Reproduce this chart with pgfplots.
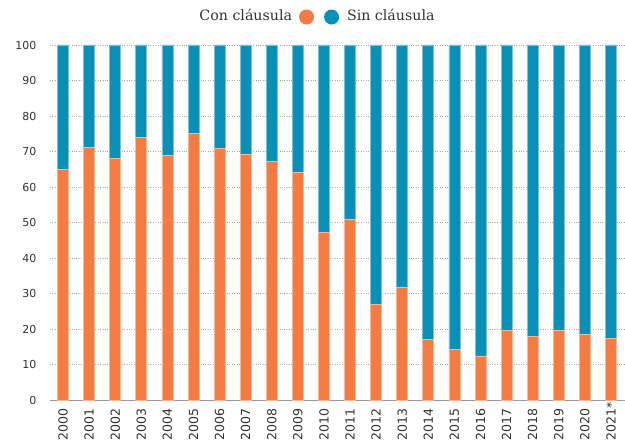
\documentclass[border=0pt]{standalone}
\usepackage{fontspec}
\usepackage{pgfplots}
\pgfplotsset{compat=1.18}
\newfontfamily\tickfont{DejaVu Sans}
\newfontfamily\legfont{DejaVu Serif}
\definecolor{con}{HTML}{F47C43}
\definecolor{sin}{HTML}{0A8FB7}
\definecolor{txt}{HTML}{333333}
\definecolor{gridc}{HTML}{A8A89A}
\begin{document}
\begin{tikzpicture}
\useasboundingbox (-50bp,-44bp) rectangle (575bp,400bp);
\begin{axis}[
  scale only axis,
  width=574bp, height=355bp,
  ybar stacked,
  bar width=11bp,
  xmin=-0.5, xmax=21.5,
  ymin=0, ymax=100,
  ytick={0,10,...,100},
  xtick={0,...,21},
  xticklabels={2000,2001,2002,2003,2004,2005,2006,2007,2008,2009,2010,2011,2012,2013,2014,2015,2016,2017,2018,2019,2020,2021*},
  yticklabels={0,10,20,30,40,50,60,70,80,90,100},
  axis x line*=bottom,
  axis y line*=left,
  x axis line style={draw=gray!80, line width=0.8bp, -},
  y axis line style={draw=none},
  ymajorgrids,
  grid style={dotted, gridc, line width=0.8bp},
  major tick length=0pt,
  ytick style={draw=none}, xtick style={draw=none},
  yticklabel style={font=\tickfont\fontsize{11bp}{12bp}\selectfont, text=txt, anchor=east, xshift=-10bp},
  xticklabel shift=44bp,
  xticklabel style={font=\tickfont\fontsize{12.5bp}{13bp}\selectfont, text=txt, rotate=90, anchor=west},
  clip=false,
]
\addplot+[fill=con, draw=con!55!white, line width=0.8bp] coordinates {
(0,65) (1,71.1) (2,68.1) (3,74) (4,68.8) (5,75.2) (6,70.8) (7,69.3) (8,67.1) (9,64) (10,47.1)
(11,51) (12,26.9) (13,31.7) (14,17.1) (15,14.2) (16,12.4) (17,19.7) (18,18) (19,19.7) (20,18.5) (21,17.4)};
\addplot+[fill=sin, draw=sin!55!white, line width=0.8bp] coordinates {
(0,35) (1,28.9) (2,31.9) (3,26) (4,31.2) (5,24.8) (6,29.2) (7,30.7) (8,32.9) (9,36) (10,52.9)
(11,49) (12,73.1) (13,68.3) (14,82.9) (15,85.8) (16,87.6) (17,80.3) (18,82) (19,80.3) (20,81.5) (21,82.6)};
\end{axis}
\node[font=\legfont\fontsize{14.2bp}{16bp}\selectfont, text=txt, inner sep=0pt] at (267bp,383bp)
  {Con cláusula\hspace{7bp}\tikz[baseline=-3.8bp]\fill[con] circle (7.5bp);\hspace{10bp}\tikz[baseline=-3.8bp]\fill[sin] circle (7.5bp);\hspace{8bp}Sin cláusula};
\end{tikzpicture}
\end{document}
